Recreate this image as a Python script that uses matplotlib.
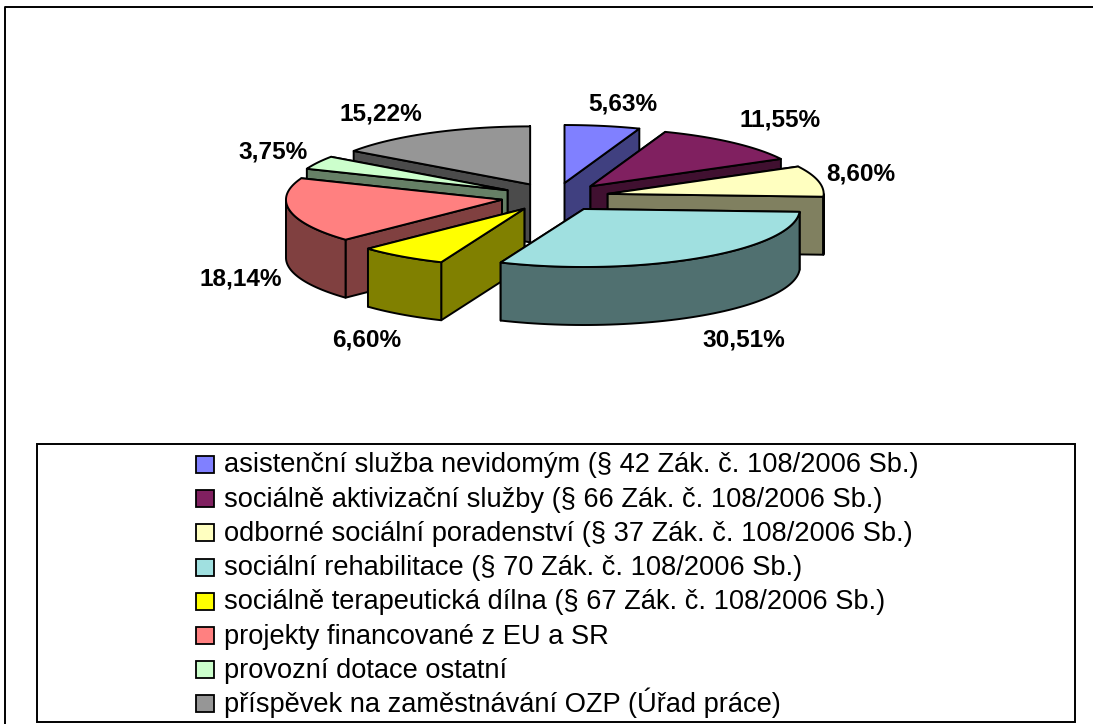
import matplotlib
matplotlib.use('Agg')
import matplotlib.pyplot as plt
from matplotlib.patches import Polygon, Rectangle
import numpy as np

plt.rcParams['font.family'] = ['Liberation Sans', 'DejaVu Sans']

categories = [
    'asistenční služba nevidomým (§ 42 Zák. č. 108/2006 Sb.)',
    'sociálně aktivizační služby (§ 66 Zák. č. 108/2006 Sb.)',
    'odborné sociální poradenství (§ 37 Zák. č. 108/2006 Sb.)',
    'sociální rehabilitace (§ 70 Zák. č. 108/2006 Sb.)',
    'sociálně terapeutická dílna (§ 67 Zák. č. 108/2006 Sb.)',
    'projekty financované z EU a SR',
    'provozní dotace ostatní',
    'příspěvek na zaměstnávání OZP (Úřad práce)',
]
values = [5.63, 11.55, 8.60, 30.51, 6.60, 18.14, 3.75, 15.22]
top_colors = ['#8080FF', '#802060', '#FFFFC0', '#A0E0E0', '#FFFF00', '#FF8080', '#CCFFCC', '#969696']
side_colors = ['#404080', '#401030', '#808060', '#507070', '#808000', '#804040', '#668066', '#4B4B4B']

# centres of the percentage labels, in pixels
label_pos = [(623, 104), (780, 120), (861, 174), (744, 340), (367, 340), (241, 279), (273, 152), (381, 114)]

# pie geometry in pixels
CX, CY = 555, 197
RX, RY = 216, 58
EXPLODE_X, EXPLODE_Y = 54, 14.2
DEPTH = 58
LW = 1.4


def rim(apex, a0, a1, n=60):
    # points on the projected circle, angles in degrees clockwise from 12 o'clock
    t = np.radians(np.linspace(a0, a1, n))
    return np.column_stack([apex[0] + RX * np.sin(t), apex[1] - RY * np.cos(t)])


def draw_slice(ax, a0, a1, top, side):
    mid = np.radians((a0 + a1) / 2)
    apex = (CX + EXPLODE_X * np.sin(mid), CY - EXPLODE_Y * np.cos(mid))
    down = np.array([0, DEPTH])

    # radial walls, the one further back first
    walls = sorted([rim(apex, a, a, 1)[0] for a in (a0, a1)], key=lambda p: p[1])
    for end in walls:
        pts = [apex, end, end + down, np.array(apex) + down]
        ax.add_patch(Polygon(pts, closed=True, facecolor=side, edgecolor='black', linewidth=LW, joinstyle='round'))

    # outer wall, only where it faces the viewer
    lo, hi = max(a0, 90), min(a1, 270)
    if hi > lo:
        arc = rim(apex, lo, hi)
        pts = np.vstack([arc, arc[::-1] + down])
        ax.add_patch(Polygon(pts, closed=True, facecolor=side, edgecolor='black', linewidth=LW, joinstyle='round'))

    pts = np.vstack([[apex], rim(apex, a0, a1)])
    ax.add_patch(Polygon(pts, closed=True, facecolor=top, edgecolor='black', linewidth=LW, joinstyle='round'))


def create_chart():
    fig = plt.figure(figsize=(10.93, 7.24), dpi=100)
    ax = fig.add_axes([0, 0, 1, 1])
    ax.set_xlim(0, 1093)
    ax.set_ylim(724, 0)
    ax.axis('off')

    # chart area frame, right and bottom sides are cut off by the image
    ax.plot([5, 5, 1093], [724, 7, 7], color='black', linewidth=LW, clip_on=False)

    bounds = np.cumsum([0] + values) / sum(values) * 360
    slices = list(range(len(values)))
    mids = (bounds[:-1] + bounds[1:]) / 2
    slices.sort(key=lambda i: -EXPLODE_Y * np.cos(np.radians(mids[i])))
    for i in slices:
        draw_slice(ax, bounds[i], bounds[i + 1], top_colors[i], side_colors[i])

    for v, (x, y) in zip(values, label_pos):
        ax.text(x, y, f'{v:.2f}%'.replace('.', ','), ha='center', va='center',
                fontsize=17.6, weight='bold', color='black')

    # legend box, rows at a fixed pitch so accents don't shift them
    ax.add_patch(Rectangle((37, 444), 1038, 278, facecolor='white', edgecolor='black', linewidth=LW))
    for i, (name, c) in enumerate(zip(categories, top_colors)):
        y = 464.5 + 34.2 * i
        ax.add_patch(Rectangle((196, y - 8.5), 18, 17, facecolor=c, edgecolor='black', linewidth=1.3))
        ax.text(224, y + 8, name, ha='left', va='baseline', fontsize=19.6, color='black')
    return fig


if __name__ == '__main__':
    fig = create_chart()
    fig.savefig('out.png', dpi=100)
    plt.close('all')
